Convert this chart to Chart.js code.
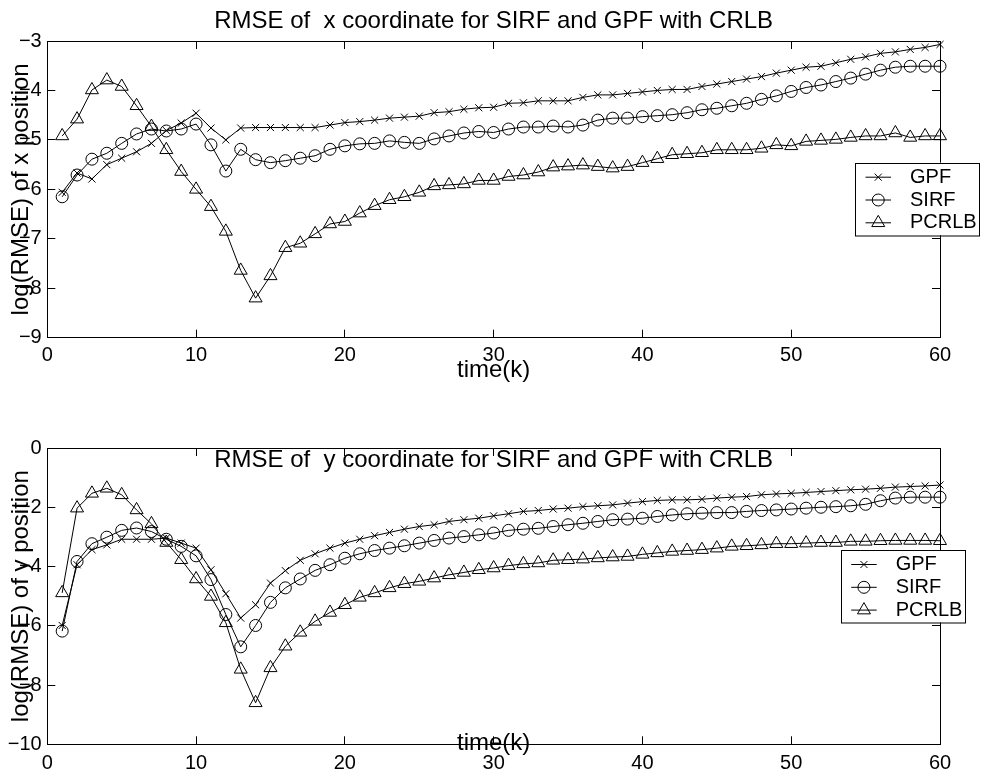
<!DOCTYPE html>
<html>
<head>
<meta charset="utf-8">
<title>RMSE of x and y coordinate for SIRF and GPF with CRLB</title>
<script src="https://cdn.jsdelivr.net/npm/chart.js@4.4.1/dist/chart.umd.min.js"></script>
<style>
  html, body { margin: 0; padding: 0; background: #fff; }
  #page { position: relative; width: 985px; height: 776px; overflow: hidden; }
  #topChart { position: absolute; left: 0; top: 0; }
  #bottomChart { position: absolute; left: 0; top: 400px; }
</style>
</head>
<body>
<div id="page">
  <canvas id="topChart" width="985" height="400"></canvas>
  <canvas id="bottomChart" width="985" height="376"></canvas>
</div>
<script>
// time steps k
var steps = [1, 2, 3, 4, 5, 6, 7, 8, 9, 10, 11, 12, 13, 14, 15, 16, 17, 18, 19, 20,
  21, 22, 23, 24, 25, 26, 27, 28, 29, 30, 31, 32, 33, 34, 35, 36, 37, 38, 39, 40,
  41, 42, 43, 44, 45, 46, 47, 48, 49, 50, 51, 52, 53, 54, 55, 56, 57, 58, 59, 60];

// log(RMSE) of x position
var gpfX = [-6.06, -5.67, -5.79, -5.50, -5.37, -5.24, -5.07, -4.81, -4.66, -4.46,
  -4.76, -5.00, -4.76, -4.75, -4.75, -4.75, -4.75, -4.75, -4.70, -4.65,
  -4.63, -4.60, -4.56, -4.54, -4.52, -4.45, -4.43, -4.38, -4.35, -4.34,
  -4.26, -4.25, -4.21, -4.21, -4.21, -4.14, -4.09, -4.09, -4.06, -4.03,
  -4.00, -3.98, -3.98, -3.92, -3.87, -3.82, -3.77, -3.72, -3.65, -3.59,
  -3.53, -3.51, -3.44, -3.37, -3.32, -3.25, -3.22, -3.17, -3.13, -3.07];
var sirfX = [-6.15, -5.71, -5.39, -5.27, -5.07, -4.88, -4.78, -4.82, -4.78, -4.68,
  -5.10, -5.63, -5.19, -5.40, -5.46, -5.42, -5.37, -5.32, -5.19, -5.12,
  -5.08, -5.07, -5.02, -5.05, -5.07, -4.98, -4.92, -4.86, -4.83, -4.85,
  -4.78, -4.74, -4.74, -4.72, -4.74, -4.70, -4.60, -4.56, -4.56, -4.53,
  -4.51, -4.49, -4.45, -4.39, -4.36, -4.31, -4.26, -4.18, -4.11, -4.02,
  -3.94, -3.89, -3.82, -3.75, -3.67, -3.59, -3.53, -3.51, -3.51, -3.51];
var pcrlbX = [-4.92, -4.58, -3.99, -3.79, -3.92, -4.31, -4.73, -5.20, -5.64, -6.00,
  -6.35, -6.85, -7.64, -8.20, -7.75, -7.18, -7.09, -6.90, -6.70, -6.65,
  -6.48, -6.33, -6.21, -6.15, -6.06, -5.93, -5.91, -5.89, -5.82, -5.82,
  -5.74, -5.71, -5.65, -5.55, -5.53, -5.51, -5.54, -5.57, -5.54, -5.46,
  -5.38, -5.30, -5.28, -5.26, -5.20, -5.20, -5.20, -5.17, -5.10, -5.12,
  -5.03, -5.01, -4.99, -4.95, -4.92, -4.92, -4.86, -4.95, -4.92, -4.92];

// log(RMSE) of y position
var gpfY = [-5.99, -3.94, -3.43, -3.27, -3.08, -3.08, -3.08, -3.04, -3.21, -3.38,
  -4.11, -4.92, -5.74, -5.29, -4.56, -4.14, -3.79, -3.57, -3.38, -3.21,
  -3.08, -2.96, -2.85, -2.74, -2.65, -2.59, -2.48, -2.42, -2.37, -2.29,
  -2.22, -2.14, -2.11, -2.06, -2.03, -1.98, -1.95, -1.92, -1.86, -1.81,
  -1.77, -1.75, -1.75, -1.73, -1.69, -1.66, -1.64, -1.58, -1.55, -1.53,
  -1.50, -1.47, -1.44, -1.41, -1.39, -1.36, -1.32, -1.30, -1.28, -1.25];
var sirfY = [-6.18, -3.83, -3.23, -3.01, -2.78, -2.70, -2.82, -3.08, -3.32, -3.64,
  -4.44, -5.62, -6.71, -5.99, -5.21, -4.72, -4.42, -4.13, -3.94, -3.72,
  -3.57, -3.46, -3.38, -3.30, -3.21, -3.12, -3.04, -2.99, -2.93, -2.87,
  -2.78, -2.74, -2.71, -2.65, -2.59, -2.54, -2.48, -2.42, -2.40, -2.37,
  -2.31, -2.26, -2.22, -2.20, -2.18, -2.18, -2.14, -2.11, -2.09, -2.06,
  -2.03, -2.00, -1.98, -1.95, -1.90, -1.78, -1.69, -1.66, -1.66, -1.66];
var pcrlbY = [-4.89, -2.03, -1.53, -1.36, -1.58, -2.09, -2.56, -3.19, -3.77, -4.42,
  -5.01, -5.90, -7.47, -8.60, -7.42, -6.69, -6.22, -5.85, -5.55, -5.29,
  -5.04, -4.89, -4.72, -4.58, -4.50, -4.39, -4.28, -4.20, -4.11, -4.05,
  -3.97, -3.91, -3.88, -3.79, -3.77, -3.75, -3.71, -3.68, -3.66, -3.59,
  -3.54, -3.49, -3.46, -3.43, -3.38, -3.32, -3.30, -3.27, -3.23, -3.23,
  -3.21, -3.19, -3.19, -3.15, -3.15, -3.13, -3.12, -3.12, -3.12, -3.13];

var seriesNames = ['GPF', 'SIRF', 'PCRLB'];
var xTicks = [0, 60, 10];     // min, max, step
var yTicksTop = [-9, -3, 1];
var yTicksBottom = [-10, 0, 2];

Chart.defaults.font.family = '"Liberation Sans", Arial, Helvetica, sans-serif';
Chart.defaults.color = '#000';

// matlab style minus sign on the tick labels
function tickText(value) {
  return value < 0 ? '\u2212' + Math.abs(value) : '' + value;
}

function series(name, values, style, radius) {
  return {
    label: name,
    data: steps.map(function (k, i) { return { x: k, y: values[i] }; }),
    borderColor: '#000',
    borderWidth: 1,
    pointStyle: style,
    pointRadius: radius,
    pointBorderWidth: 1,
    pointBorderColor: '#000',
    pointBackgroundColor: 'rgba(0,0,0,0)',
    tension: 0,
    clip: false
  };
}

// legend box drawn last, opaque like the matlab one (it hides the right axis)
var boxLegend = {
  id: 'boxLegend',
  afterDraw: function (chart, args, opts) {
    var ctx = chart.ctx;
    var x = opts.x, y = opts.y;
    ctx.save();
    ctx.fillStyle = '#fff';
    ctx.fillRect(x, y, opts.width, opts.height);
    ctx.strokeStyle = '#000';
    ctx.lineWidth = 1;
    ctx.strokeRect(Math.round(x) + 0.5, Math.round(y) + 0.5, opts.width, opts.height);
    ctx.font = '20px "Liberation Sans", Arial, sans-serif';
    ctx.textBaseline = 'middle';
    ctx.textAlign = 'left';
    chart.data.datasets.forEach(function (ds, i) {
      var rowY = y + opts.rowTop + i * opts.rowGap;
      ctx.beginPath();
      ctx.moveTo(x + opts.lineFrom, rowY);
      ctx.lineTo(x + opts.lineTo, rowY);
      ctx.stroke();
      ctx.fillStyle = 'rgba(0,0,0,0)';
      Chart.helpers.drawPoint(ctx, {
        pointStyle: ds.pointStyle, radius: ds.pointRadius, borderWidth: 1, rotation: 0
      }, x + (opts.lineFrom + opts.lineTo) / 2, rowY);
      ctx.fillStyle = '#000';
      ctx.fillText(ds.label, x + opts.textX, rowY);
    });
    ctx.restore();
  }
};

function makeChart(canvasId, s) {
  var inTicks = { drawOnChartArea: false, drawTicks: true, tickLength: -8, color: '#000', lineWidth: 1 };
  var edge = { display: true, color: '#000', width: 1 };
  return new Chart(document.getElementById(canvasId), {
    type: 'line',
    data: {
      datasets: [
        series(seriesNames[0], s.gpf, 'crossRot', 5),
        series(seriesNames[1], s.sirf, 'circle', 6),
        series(seriesNames[2], s.pcrlb, 'triangle', 7.5)
      ]
    },
    plugins: [boxLegend],
    options: {
      responsive: false,
      animation: false,
      events: [],
      layout: { padding: { top: s.plotTop, left: 0, right: 45, bottom: 0 } },
      scales: {
        x: {
          type: 'linear', position: 'bottom',
          min: xTicks[0], max: xTicks[1],
          grid: inTicks, border: edge,
          ticks: { stepSize: xTicks[2], padding: s.xPad, maxRotation: 0, font: { size: 20 }, callback: tickText },
          title: { display: true, text: 'time(k)', font: { size: 24 }, padding: { top: 0, bottom: s.xTitlePad } },
          afterFit: function (scale) { scale.height = s.xHeight; }
        },
        y: {
          type: 'linear', position: 'left',
          min: s.yTicks[0], max: s.yTicks[1],
          grid: inTicks, border: edge,
          ticks: { stepSize: s.yTicks[2], padding: 13.6, font: { size: 20 }, callback: tickText },
          title: { display: true, text: s.yLabel, font: { size: 24 }, padding: { top: 7.2, bottom: 0 } },
          afterFit: function (scale) { scale.width = 47.3; }
        },
        // top axis carries the title, so it is centred over the plot like matlab
        x2: {
          type: 'linear', position: 'top',
          min: xTicks[0], max: xTicks[1],
          grid: inTicks, border: edge,
          ticks: { display: false, stepSize: xTicks[2] },
          title: { display: true, text: s.title, font: { size: 24 }, padding: { top: s.titlePad, bottom: 0 } },
          afterFit: function (scale) { scale.height = 0; }
        },
        y2: {
          type: 'linear', position: 'right',
          min: s.yTicks[0], max: s.yTicks[1],
          grid: inTicks, border: edge,
          ticks: { display: false, stepSize: s.yTicks[2] },
          afterFit: function (scale) { scale.width = 0; }
        }
      },
      plugins: {
        legend: { display: false },
        tooltip: { enabled: false },
        boxLegend: s.legend
      }
    }
  });
}

var legendRows = { rowTop: 14.5, rowGap: 22.8, lineFrom: 10.5, lineTo: 36, textX: 55, width: 124, height: 72.5 };

makeChart('topChart', {
  gpf: gpfX, sirf: sirfX, pcrlb: pcrlbX,
  yTicks: yTicksTop,
  title: 'RMSE of  x coordinate for SIRF and GPF with CRLB',
  yLabel: 'log(RMSE) of x position',
  plotTop: 41, titlePad: -33.7,
  xPad: 13.3, xTitlePad: 15.6, xHeight: 62.3,
  legend: Object.assign({ x: 855, y: 162.7 }, legendRows)
});

makeChart('bottomChart', {
  gpf: gpfY, sirf: sirfY, pcrlb: pcrlbY,
  yTicks: yTicksBottom,
  title: 'RMSE of  y coordinate for SIRF and GPF with CRLB',
  yLabel: 'log(RMSE) of y position',
  plotTop: 48, titlePad: -2.4,
  xPad: 14.7, xTitlePad: 18.3, xHeight: 31.7,
  legend: Object.assign({ x: 840.7, y: 150 }, legendRows)
});
</script>
</body>
</html>
